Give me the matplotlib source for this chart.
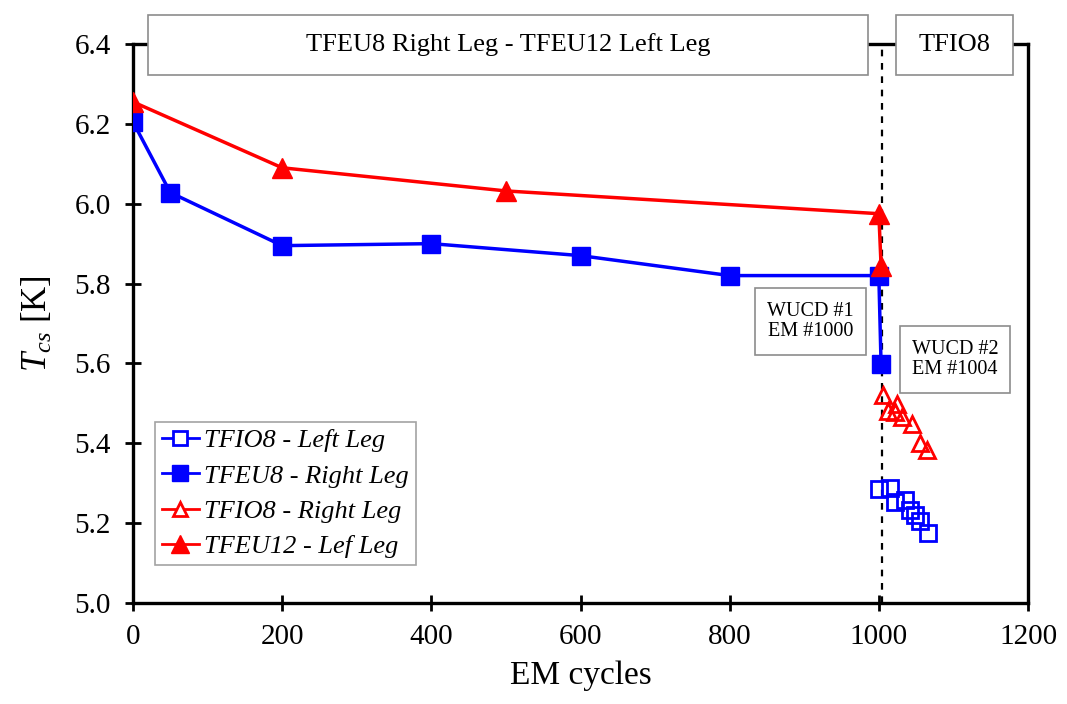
import matplotlib
matplotlib.use("Agg")
import matplotlib.pyplot as plt
from matplotlib.lines import Line2D
from matplotlib.patches import Rectangle

plt.rcParams['font.family'] = ['Liberation Serif', 'DejaVu Serif']
plt.rcParams['mathtext.fontset'] = 'custom'
plt.rcParams['mathtext.it'] = 'Liberation Serif:italic'
plt.rcParams['mathtext.rm'] = 'Liberation Serif'

# TFEU8 right leg (filled squares)
feu8_x = [0, 50, 200, 400, 600, 800, 1000, 1003]
feu8_y = [6.205, 6.028, 5.895, 5.900, 5.870, 5.820, 5.820, 5.598]

# TFEU12 left leg (filled triangles)
feu12_x = [0, 200, 500, 1000, 1003]
feu12_y = [6.255, 6.090, 6.032, 5.975, 5.845]

# TFIO8 right leg (open triangles)
fio8_r_x = [1006, 1024, 1012, 1022, 1031, 1044, 1055, 1064]
fio8_r_y = [5.521, 5.498, 5.482, 5.478, 5.466, 5.449, 5.400, 5.382]

# TFIO8 left leg (open squares)
fio8_l_x = [1000, 1015, 1022, 1035, 1042, 1048, 1055, 1066]
fio8_l_y = [5.285, 5.288, 5.252, 5.258, 5.233, 5.220, 5.205, 5.175]

wucd_x = 1004
x_ticks = [0, 200, 400, 600, 800, 1000, 1200]
y_ticks = [5.0, 5.2, 5.4, 5.6, 5.8, 6.0, 6.2, 6.4]

blue = '#0000FF'
red = '#FF0000'
grey = '#8c8c8c'

fig = plt.figure(figsize=(10.67, 7.04), dpi=100)
ax = fig.add_axes([133 / 1067, 1 - 603 / 704, (1028 - 133) / 1067, (603 - 44) / 704])

ax.axvline(wucd_x, color='black', linestyle=(0, (3, 3)), linewidth=1.6, zorder=1)

ax.plot(fio8_l_x, fio8_l_y, linestyle='none', marker='s', markersize=11,
        markerfacecolor='none', markeredgecolor=blue, markeredgewidth=2, zorder=3)
ax.plot(feu8_x, feu8_y, color=blue, linewidth=2.5, marker='s', markersize=13,
        markerfacecolor=blue, markeredgecolor=blue, zorder=4)
ax.plot(fio8_r_x, fio8_r_y, linestyle='none', marker='^', markersize=11,
        markerfacecolor='none', markeredgecolor=red, markeredgewidth=2, zorder=3)
ax.plot(feu12_x, feu12_y, color=red, linewidth=2.5, marker='^', markersize=15,
        markerfacecolor=red, markeredgecolor=red, zorder=5)

ax.set_xlim(0, 1200)
ax.set_ylim(5.0, 6.4)
ax.set_xticks(x_ticks)
ax.set_yticks(y_ticks)
ax.set_yticklabels([f'{v:.1f}' for v in y_ticks])
ax.tick_params(direction='inout', length=12, width=2, labelsize=21)
ax.tick_params(axis='x', pad=9)
ax.tick_params(axis='y', pad=10)
for s in ax.spines.values():
    s.set_linewidth(2.4)

ax.set_xlabel('EM cycles', fontsize=24, labelpad=8)
ax.set_ylabel(r'$T_{cs}$ [K]', fontsize=25, labelpad=14)

# legend handles: the open series get a short line in the legend
handles = [
    Line2D([], [], color=blue, linewidth=2, marker='s', markersize=10,
           markerfacecolor='white', markeredgecolor=blue, markeredgewidth=2),
    Line2D([], [], color=blue, linewidth=2, marker='s', markersize=11,
           markerfacecolor=blue, markeredgecolor=blue),
    Line2D([], [], color=red, linewidth=2, marker='^', markersize=10,
           markerfacecolor='white', markeredgecolor=red, markeredgewidth=2),
    Line2D([], [], color=red, linewidth=2, marker='^', markersize=13,
           markerfacecolor=red, markeredgecolor=red),
]
labels = ['TFIO8 - Left Leg', 'TFEU8 - Right Leg', 'TFIO8 - Right Leg', 'TFEU12 - Lef Leg']
leg = ax.legend(handles, labels, loc='lower left', bbox_to_anchor=(0.025, 0.068),
                prop={'style': 'italic', 'size': 19}, frameon=True, fancybox=False,
                handlelength=1.4, handletextpad=0.2, borderpad=0.25, labelspacing=0.45,
                borderaxespad=0)
leg.get_frame().set_edgecolor(grey)
leg.get_frame().set_linewidth(1.2)

# header boxes over the top spine
for x0, x1, txt in [(20, 985, 'TFEU8 Right Leg - TFEU12 Left Leg'),
                    (1023, 1180, 'TFIO8')]:
    ax.add_patch(Rectangle((x0, 6.3224), x1 - x0, 0.1502, facecolor='white',
                           edgecolor=grey, linewidth=1.2, clip_on=False, zorder=10))
    ax.text((x0 + x1) / 2, 6.3975, txt, ha='center', va='center', fontsize=19,
            zorder=11, clip_on=False)

# WUCD annotation boxes
for x0, x1, y0, y1, txt in [(834, 983, 5.621, 5.789, 'WUCD #1\nEM #1000'),
                            (1028, 1176, 5.526, 5.694, 'WUCD #2\nEM #1004')]:
    ax.add_patch(Rectangle((x0, y0), x1 - x0, y1 - y0, facecolor='white',
                           edgecolor=grey, linewidth=1.2, zorder=10))
    ax.text((x0 + x1) / 2, (y0 + y1) / 2, txt, ha='center', va='center',
            fontsize=14.5, linespacing=1.05, zorder=11)

fig.savefig('out.png', dpi=100)
